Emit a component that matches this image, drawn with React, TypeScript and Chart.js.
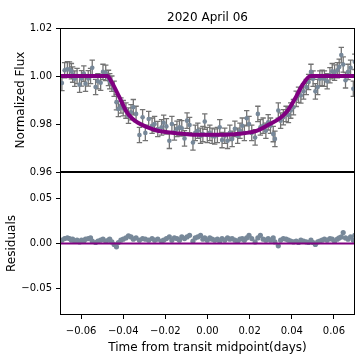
import React, { useEffect, useRef } from "react";
import { Chart, registerables } from "chart.js";

Chart.register(...registerables);

// ---------- text ----------
const TITLE = "2020 April 06";
const X_LABEL = "Time from transit midpoint(days)";
const FLUX_LABEL = "Normalized Flux";
const RESID_LABEL = "Residuals";

// ---------- data ----------
const times = [
  -0.0691, -0.0678, -0.0665, -0.0655, -0.0646, -0.064, -0.063, -0.0619, -0.0607, -0.0598,
  -0.0587, -0.0579, -0.0566, -0.0555, -0.0547, -0.0531, -0.052, -0.0507, -0.0496, -0.0483,
  -0.047, -0.0464, -0.0454, -0.0443, -0.0432, -0.0423, -0.0411, -0.04, -0.0387, -0.0375,
  -0.0363, -0.0352, -0.0339, -0.0323, -0.0308, -0.0295, -0.0279, -0.0263, -0.0251, -0.0236,
  -0.0218, -0.0208, -0.0195, -0.0181, -0.0169, -0.0157, -0.0145, -0.0133, -0.0122, -0.0109,
  -0.0097, -0.0085, -0.0069, -0.0058, -0.0046, -0.0033, -0.0022, -0.0013, -0.0001, 0.0011,
  0.0022, 0.0034, 0.0047, 0.0058, 0.0069, 0.0082, 0.0095, 0.0106, 0.0117, 0.013,
  0.0143, 0.0154, 0.0165, 0.0175, 0.0186, 0.0197, 0.021, 0.0226, 0.0239,
  0.0251, 0.0264, 0.0277, 0.0288, 0.0299, 0.0312, 0.032, 0.0336, 0.0347, 0.036,
  0.0373, 0.0384, 0.0395, 0.0408, 0.0421, 0.0432, 0.0443, 0.0456, 0.0469, 0.048,
  0.0491, 0.0501, 0.0512, 0.0523, 0.0533, 0.0544, 0.0555, 0.0568, 0.0581, 0.0592,
  0.0603, 0.0616, 0.0625, 0.0635, 0.0644, 0.0655, 0.0667, 0.0679, 0.0692, 0.0699,
];

const flux = [
  0.9971, 1.0024, 1.0028, 1.0027, 1.002, 1.0006, 0.9989, 1.0, 0.9964, 0.999,
  1.001, 0.9968, 0.999, 1.0, 1.0034, 0.9954, 0.9978, 0.9972, 1.0017, 1.0013,
  0.9992, 0.9978, 0.9968, 0.9947, 0.9891, 0.9863, 0.9877, 0.9866, 0.9856, 0.9835,
  0.9849, 0.987, 0.9842, 0.9754, 0.9828, 0.9763, 0.9821, 0.9793, 0.98, 0.9779,
  0.9786, 0.9805, 0.979, 0.973, 0.98, 0.9765, 0.978, 0.9786, 0.9782, 0.974,
  0.9814, 0.9796, 0.9723, 0.9763, 0.9772, 0.9751, 0.9758, 0.981, 0.9754, 0.9763,
  0.9751, 0.9748, 0.9754, 0.9786, 0.9733, 0.9751, 0.973, 0.9763, 0.9738, 0.978,
  0.9751, 0.9772, 0.9793, 0.9763, 0.9824, 0.98, 0.9763, 0.9744, 0.9842,
  0.9786, 0.9793, 0.9772, 0.9807, 0.9793, 0.9758, 0.9738, 0.9856, 0.9814, 0.9828,
  0.9842, 0.9838, 0.9856, 0.987, 0.9905, 0.9922, 0.9919, 0.9936, 0.9954, 0.9975,
  1.0017, 0.9989, 0.9936, 0.9954, 0.9989, 0.9992, 0.9989, 0.9978, 1.0003, 1.002,
  1.0014, 1.0024, 1.0038, 1.0087, 1.0048, 0.9982, 1.0017, 1.0034, 0.9947, 1.0059,
];

const fluxErr = 0.0032;

const residuals = [
  0.0037, 0.0055, 0.0062, 0.0055, 0.0037, 0.0048, 0.0026, 0.0037, 0.0018, 0.0037,
  0.0026, 0.0048, 0.0055, 0.0062, 0.0026, 0.0011, 0.0026, 0.0037, 0.0048, 0.0026,
  0.0037, 0.0048, 0.0018, -0.0011, -0.0037, 0.0011, 0.0037, 0.0048, 0.0062, 0.0085,
  0.0074, 0.0048, 0.0062, 0.0037, 0.0055, 0.0048, 0.0037, 0.0055, 0.0037, 0.0048,
  0.0026, 0.0037, 0.0055, 0.0074, 0.0037, 0.0062, 0.0055, 0.0037, 0.0074, 0.0055,
  0.0074, 0.0092, 0.0026, 0.0062, 0.0074, 0.0092, 0.0048, 0.0062, 0.0037,
  0.0062, 0.0048, 0.0037, 0.0048, 0.0026, 0.0055, 0.0037, 0.0062, 0.0048, 0.0055,
  0.0037, 0.0026, 0.0048, 0.0055, 0.0037, 0.0062, 0.0092, 0.0055, 0.0018, 0.0062,
  0.0092, 0.0048, 0.0037, 0.0055, 0.0037, 0.0062, 0.0018, -0.0026, 0.0037, 0.0055,
  0.0048, 0.0037, 0.0026, 0.0018, 0.0026, 0.0011, 0.0037, 0.0026, 0.0018, 0.0011,
  0.0037, 0.0011, -0.0011, 0.0018, 0.0026, 0.0037, 0.0048, 0.0037, 0.0055, 0.0048,
  0.0026, 0.0048, 0.0062, 0.0074, 0.0122, 0.0062, 0.0048, 0.0074, 0.0037, 0.0092,
];

const modelTimes = [
  -0.07, -0.0475, -0.0455, -0.042, -0.0385, -0.036, -0.033, -0.029, -0.0236, -0.015,
  -0.005, 0.005, 0.015, 0.0236, 0.0296, 0.0345, 0.038, 0.0415, 0.045, 0.048, 0.0495, 0.07,
];
const modelFlux = [
  1.0, 1.0, 0.9975, 0.9915, 0.9852, 0.9825, 0.9805, 0.9788, 0.9772, 0.9762,
  0.9755, 0.9755, 0.9759, 0.9772, 0.98, 0.9825, 0.9855, 0.9905, 0.9962, 0.9996, 1.0, 1.0,
];

const xTicks = [-0.06, -0.04, -0.02, 0, 0.02, 0.04, 0.06];
const fluxTicks = [0.96, 0.98, 1.0, 1.02];
const residTicks = [-0.05, 0, 0.05];
const xRange = [-0.07, 0.07];
const fluxRange = [0.96, 1.02];
const residRange = [-0.08, 0.08];

// ---------- style ----------
const FONT = "'DejaVu Sans', 'Liberation Sans', sans-serif";
const SIZE = 363;
const PLOT_LEFT = 60;
const PLOT_RIGHT_PAD = 8;
const TOP_PANEL_TOP = 28;
const PANEL_SPLIT = 172;
const BOTTOM_PANEL_BOTTOM = 315;
const PURPLE = "#800080";
const POINT_COLOR = "#778899";
const ERR_COLOR = "#737373";

const fmt = (v: number) => {
  const s = Math.abs(v).toFixed(2);
  return (v < -1e-9 ? "\u2212" : "") + s;
};

const tickStyle = {
  font: { family: FONT, size: 10 },
  color: "#000",
  padding: 4,
};
const gridStyle = {
  display: true,
  drawOnChartArea: false,
  drawTicks: true,
  tickLength: 4,
  tickColor: "#000",
  tickWidth: 1,
};

const framePlugin = {
  id: "frame",
  afterDatasetsDraw(chart: any) {
    const { ctx, chartArea } = chart;
    ctx.save();
    ctx.strokeStyle = "#000";
    ctx.lineWidth = 1;
    ctx.strokeRect(
      Math.round(chartArea.left) + 0.5,
      Math.round(chartArea.top) + 0.5,
      Math.round(chartArea.right - chartArea.left) - 1,
      Math.round(chartArea.bottom - chartArea.top) - 1
    );
    ctx.restore();
  },
};

const errorBarPlugin = {
  id: "errorBars",
  beforeDatasetsDraw(chart: any) {
    const { ctx, chartArea, scales } = chart;
    ctx.save();
    ctx.beginPath();
    ctx.rect(chartArea.left, chartArea.top, chartArea.right - chartArea.left, chartArea.bottom - chartArea.top);
    ctx.clip();
    ctx.strokeStyle = ERR_COLOR;
    ctx.lineWidth = 1.3;
    for (let i = 0; i < times.length; i++) {
      const px = scales.x.getPixelForValue(times[i]);
      const yTop = scales.y.getPixelForValue(flux[i] + fluxErr);
      const yBot = scales.y.getPixelForValue(flux[i] - fluxErr);
      ctx.beginPath();
      ctx.moveTo(px, yTop);
      ctx.lineTo(px, yBot);
      ctx.moveTo(px - 2.7, yTop);
      ctx.lineTo(px + 2.7, yTop);
      ctx.moveTo(px - 2.7, yBot);
      ctx.lineTo(px + 2.7, yBot);
      ctx.stroke();
    }
    ctx.restore();
  },
};

const topTextPlugin = {
  id: "topText",
  afterDraw(chart: any) {
    const { ctx, chartArea } = chart;
    ctx.save();
    ctx.fillStyle = "#000";
    ctx.font = `12px ${FONT}`;
    ctx.textAlign = "center";
    ctx.textBaseline = "alphabetic";
    ctx.fillText(TITLE, (chartArea.left + chartArea.right) / 2, 21);
    ctx.translate(20.5, (chartArea.top + chartArea.bottom) / 2);
    ctx.rotate(-Math.PI / 2);
    ctx.textBaseline = "middle";
    ctx.fillText(FLUX_LABEL, 0, 0);
    ctx.restore();
  },
};

const bottomTextPlugin = {
  id: "bottomText",
  afterDraw(chart: any) {
    const { ctx, chartArea } = chart;
    ctx.save();
    ctx.fillStyle = "#000";
    ctx.font = `12px ${FONT}`;
    ctx.textAlign = "center";
    ctx.textBaseline = "alphabetic";
    ctx.fillText(X_LABEL, (chartArea.left + chartArea.right) / 2, 351);
    ctx.translate(12, (chartArea.top + chartArea.bottom) / 2);
    ctx.rotate(-Math.PI / 2);
    ctx.textBaseline = "middle";
    ctx.fillText(RESID_LABEL, 0, 0);
    ctx.restore();
  },
};

const baseOptions = {
  responsive: false,
  maintainAspectRatio: false,
  devicePixelRatio: 1,
  animation: false as const,
  events: [] as any[],
  plugins: {
    legend: { display: false },
    tooltip: { enabled: false },
    title: { display: false },
  },
};

export default function App() {
  const topRef = useRef<HTMLCanvasElement>(null);
  const bottomRef = useRef<HTMLCanvasElement>(null);

  useEffect(() => {
    if (!topRef.current || !bottomRef.current) return;

    const top = new Chart(topRef.current, {
      type: "scatter",
      data: {
        datasets: [
          {
            data: modelTimes.map((t, i) => ({ x: t, y: modelFlux[i] })),
            showLine: true,
            borderColor: PURPLE,
            borderWidth: 4,
            pointRadius: 0,
            cubicInterpolationMode: "monotone",
            order: 1,
          } as any,
          {
            data: times.map((t, i) => ({ x: t, y: flux[i] })),
            pointRadius: 2.3,
            pointBackgroundColor: POINT_COLOR,
            pointBorderWidth: 0,
            backgroundColor: POINT_COLOR,
            order: 2,
          },
        ],
      },
      options: {
        ...baseOptions,
        layout: {
          padding: {
            left: 0,
            right: PLOT_RIGHT_PAD,
            top: TOP_PANEL_TOP,
            bottom: SIZE - PANEL_SPLIT,
          },
        },
        scales: {
          x: { type: "linear", min: xRange[0], max: xRange[1], display: false },
          y: {
            type: "linear",
            min: fluxRange[0],
            max: fluxRange[1],
            afterBuildTicks: (axis: any) => {
              axis.ticks = fluxTicks.map((v) => ({ value: v }));
            },
            afterFit: (axis: any) => {
              axis.width = PLOT_LEFT;
            },
            ticks: { ...tickStyle, callback: (v: any) => fmt(Number(v)) },
            grid: gridStyle,
            border: { display: false },
          },
        },
      } as any,
      plugins: [errorBarPlugin, framePlugin, topTextPlugin],
    });

    const bottom = new Chart(bottomRef.current, {
      type: "scatter",
      data: {
        datasets: [
          {
            data: [
              { x: xRange[0], y: 0 },
              { x: xRange[1], y: 0 },
            ],
            showLine: true,
            borderColor: PURPLE,
            borderWidth: 2.2,
            pointRadius: 0,
            order: 1,
          } as any,
          {
            data: times.map((t, i) => ({ x: t, y: residuals[i] })),
            pointRadius: 2.6,
            pointBackgroundColor: POINT_COLOR,
            pointBorderWidth: 0,
            backgroundColor: POINT_COLOR,
            order: 2,
          },
        ],
      },
      options: {
        ...baseOptions,
        layout: {
          padding: { left: 0, right: PLOT_RIGHT_PAD, top: PANEL_SPLIT, bottom: 0 },
        },
        scales: {
          x: {
            type: "linear",
            min: xRange[0],
            max: xRange[1],
            afterBuildTicks: (axis: any) => {
              axis.ticks = xTicks.map((v) => ({ value: v }));
            },
            afterFit: (axis: any) => {
              axis.height = SIZE - BOTTOM_PANEL_BOTTOM;
            },
            ticks: { ...tickStyle, padding: 6, maxRotation: 0, autoSkip: false, callback: (v: any) => fmt(Number(v)) },
            grid: gridStyle,
            border: { display: false },
          },
          y: {
            type: "linear",
            min: residRange[0],
            max: residRange[1],
            afterBuildTicks: (axis: any) => {
              axis.ticks = residTicks.map((v) => ({ value: v }));
            },
            afterFit: (axis: any) => {
              axis.width = PLOT_LEFT;
            },
            ticks: { ...tickStyle, callback: (v: any) => fmt(Number(v)) },
            grid: gridStyle,
            border: { display: false },
          },
        },
      } as any,
      plugins: [framePlugin, bottomTextPlugin],
    });

    return () => {
      top.destroy();
      bottom.destroy();
    };
  }, []);

  const canvasStyle: React.CSSProperties = {
    position: "absolute",
    left: 0,
    top: 0,
    width: SIZE,
    height: SIZE,
  };

  return (
    <div style={{ position: "fixed", left: 0, top: 0, width: SIZE, height: SIZE, background: "#fff" }}>
      <canvas ref={topRef} width={SIZE} height={SIZE} style={canvasStyle} />
      <canvas ref={bottomRef} width={SIZE} height={SIZE} style={canvasStyle} />
    </div>
  );
}
